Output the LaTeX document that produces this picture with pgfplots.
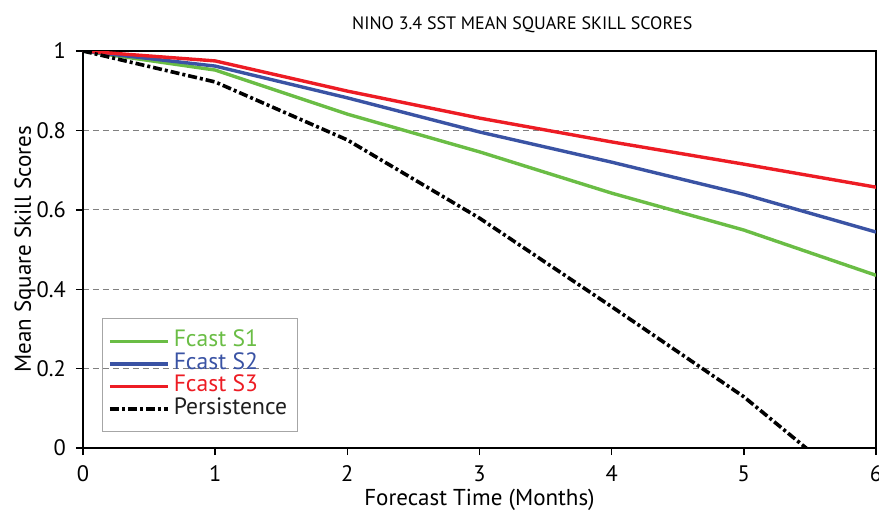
\documentclass[border=0pt]{standalone}
\usepackage{pgfplots}
\pgfplotsset{compat=1.18}
\usepackage{fontspec}
\setmainfont{PT Sans}
\definecolor{cS1}{RGB}{106,189,69}
\definecolor{cS2}{RGB}{58,83,164}
\definecolor{cS3}{RGB}{237,28,36}
\begin{document}
\begin{tikzpicture}
\path[use as bounding box] (-41.5pt,-31pt) rectangle (398pt,224pt);
\begin{axis}[
  scale only axis,
  width=396.5pt, height=198.5pt,
  at={(0,0)}, anchor=south west,
  xmin=0, xmax=6, ymin=0, ymax=1,
  xtick={0,1,2,3,4,5,6},
  ytick={0,0.2,0.4,0.6,0.8,1},
  tick align=outside,
  tick pos=left,
  major tick length=3.5pt,
  axis line style={line width=0.9pt},
  every tick/.style={black, line width=0.7pt},
  /pgf/number format/assume math mode=true,
  ticklabel style={font=\fontsize{11.2}{13}\selectfont},
  xticklabel style={anchor=base, yshift=-13pt},
  yticklabel style={/pgf/number format/fixed, /pgf/number format/precision=1, xshift=-1.5pt},
  ymajorgrids,
  grid style={gray, line width=0.5pt, dash pattern=on 3pt off 2pt},
  title={NINO 3.4 SST MEAN SQUARE SKILL SCORES},
  title style={font=\fontsize{9}{11}\selectfont, at={(axis description cs:0.554,1)}, anchor=center, yshift=7pt},
  xlabel={Forecast Time (Months)},
  ylabel={Mean Square Skill Scores},
  label style={font=\fontsize{11.5}{13}\selectfont},
  xlabel style={at={(axis description cs:0.5,0)}, anchor=base, yshift=-28.5pt},
  ylabel style={at={(axis description cs:-0.073,0.5)}, anchor=center},
  legend style={at={(axis cs:0,0)}, anchor=south west, xshift=9.35pt, yshift=8pt,
    draw=gray!70, line width=0.5pt, fill=none, font=\fontsize{11.8}{13}\selectfont,
    nodes={inner xsep=2pt, inner ysep=0pt, text height=8.4pt, text depth=2.85pt},
    row sep=0pt, inner xsep=3pt, inner ysep=5.7pt},
  legend cell align=left,
  legend image code/.code={\draw[#1] (0cm,0cm) -- (29pt,0cm);},
]
\addplot[cS1, line width=1.7pt] coordinates {(0,1) (1,0.952) (2,0.841) (3,0.746) (4,0.642) (5,0.549) (6,0.435)};
\addlegendentry{\textcolor{cS1}{Fcast S1}}
\addplot[cS2, line width=1.7pt] coordinates {(0,1) (1,0.962) (2,0.882) (3,0.796) (4,0.720) (5,0.639) (6,0.544)};
\addlegendentry{\textcolor{cS2}{Fcast S2}}
\addplot[cS3, line width=1.7pt] coordinates {(0,1) (1,0.975) (2,0.899) (3,0.831) (4,0.771) (5,0.715) (6,0.657)};
\addlegendentry{\textcolor{cS3}{Fcast S3}}
\addplot[black, line width=1.8pt, dash pattern=on 4.5pt off 1.5pt on 1.5pt off 1.5pt] coordinates {(0,1) (1,0.922) (2,0.776) (3,0.579) (4,0.356) (5,0.129) (6,-0.145)};
\addlegendentry{\textcolor{black!88}{Persistence}}
\end{axis}
\end{tikzpicture}
\end{document}
